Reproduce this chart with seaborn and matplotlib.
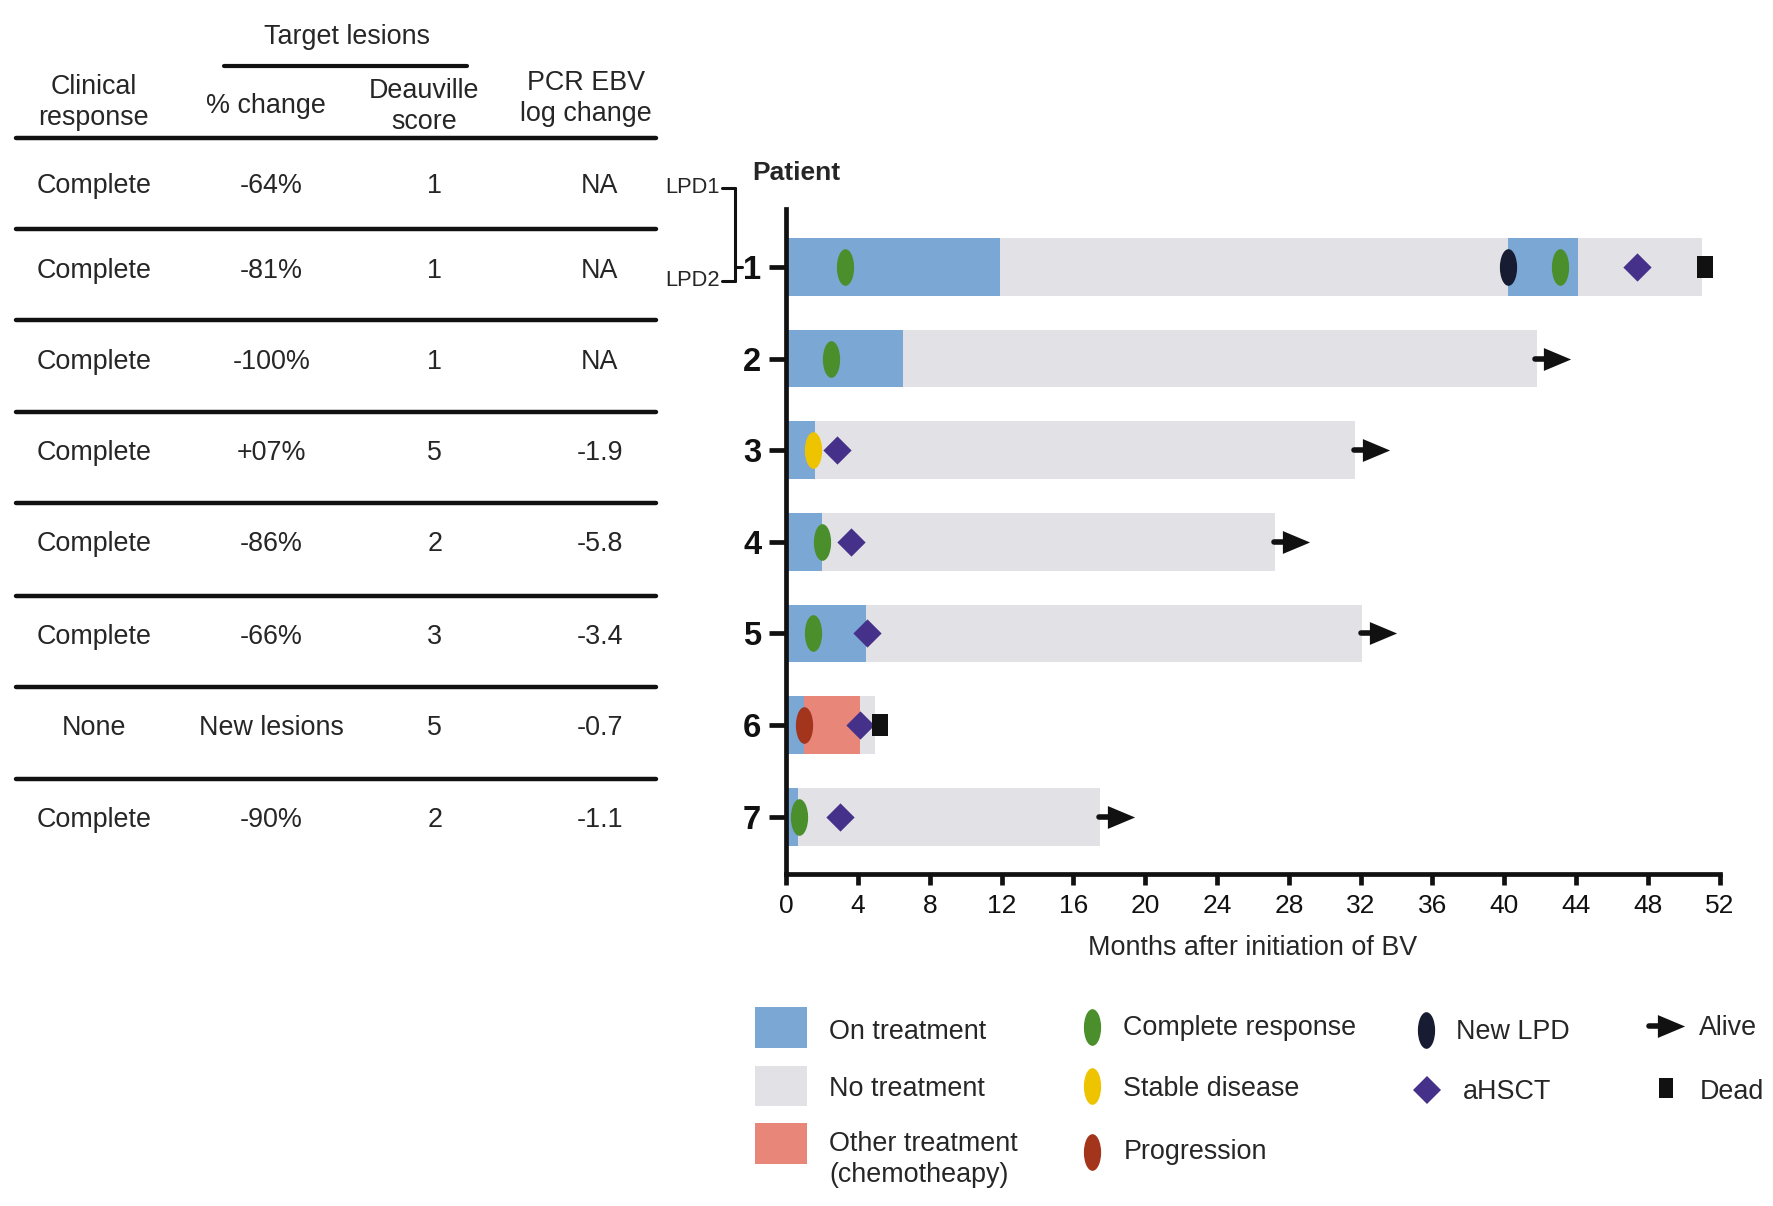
import numpy as np
import pandas as pd
import seaborn as sns
import matplotlib
matplotlib.use("Agg")
import matplotlib.pyplot as plt
from matplotlib.path import Path
from matplotlib.transforms import Affine2D
from matplotlib.patches import Rectangle
from matplotlib.lines import Line2D

# ---- table data ----
table_response = ["Complete", "Complete", "Complete", "Complete",
                  "Complete", "Complete", "None", "Complete"]
table_pct_change = ["-64%", "-81%", "-100%", "+07%", "-86%", "-66%",
                    "New lesions", "-90%"]
table_deauville = ["1", "1", "1", "5", "2", "3", "5", "2"]
table_pcr = ["NA", "NA", "NA", "-1.9", "-5.8", "-3.4", "-0.7", "-1.1"]

# ---- swimmer data (months after initiation of BV) ----
patients = [1, 2, 3, 4, 5, 6, 7]
followup_end = [51.0, 41.8, 31.7, 27.25, 32.1, 4.95, 17.5]

on_tx_patient = [1, 1, 2, 3, 4, 5, 6, 7]
on_tx_start = [0, 40.2, 0, 0, 0, 0, 0, 0]
on_tx_end = [11.9, 44.1, 6.5, 1.6, 2.0, 4.45, 1.0, 0.66]

other_tx_patient = [6]
other_tx_start = [1.0]
other_tx_end = [4.1]

cr_patient = [1, 1, 2, 4, 5, 7]
cr_month = [3.3, 43.1, 2.5, 2.0, 1.5, 0.7]
sd_patient = [3]
sd_month = [1.5]
prog_patient = [6]
prog_month = [1.0]
newlpd_patient = [1]
newlpd_month = [40.2]
ahsct_patient = [1, 3, 4, 5, 6, 7]
ahsct_month = [47.4, 2.8, 3.6, 4.5, 4.1, 3.0]
dead_patient = [1, 6]
dead_month = [51.2, 5.2]
alive_patient = [2, 3, 4, 5, 7]

x_ticks = list(range(0, 53, 4))

# ---- colours ----
c_on = "#7BA7D5"
c_no = "#E2E2E6"
c_other = "#E8867A"
c_cr = "#4A8F2B"
c_sd = "#EEC300"
c_prog = "#A3351D"
c_new = "#171C33"
c_ahsct = "#46318A"
c_black = "#111111"

sns.set_theme(style="ticks")
plt.rcParams["font.family"] = ["Liberation Sans", "DejaVu Sans"]

fig = plt.figure(figsize=(8.87, 6.03), dpi=200)
ax = fig.add_axes([0.4432, 0.2749, 0.5262, 0.5516])

bar_h = 0.63

# grey follow-up bars
ax.barh(patients, followup_end, left=0, height=bar_h, color=c_no, linewidth=0)
# on treatment
ax.barh(on_tx_patient, np.array(on_tx_end) - np.array(on_tx_start),
        left=on_tx_start, height=bar_h, color=c_on, linewidth=0)
# other treatment
ax.barh(other_tx_patient, np.array(other_tx_end) - np.array(other_tx_start),
        left=other_tx_start, height=bar_h, color=c_other, linewidth=0)

oval = Path.unit_circle().transformed(Affine2D().scale(0.47, 1.0))
rect = Path([(-0.36, -0.5), (0.36, -0.5), (0.36, 0.5), (-0.36, 0.5), (-0.36, -0.5)],
            closed=True)
head = Path([(0.5, 0), (-0.5, 0.42), (-0.5, -0.42), (0.5, 0)], closed=True)

oval_ms = 13.2
diamond_ms = 7.2
head_ms = 9.8

sns.scatterplot(x=cr_month, y=cr_patient, marker=oval, s=oval_ms ** 2, color=c_cr,
                linewidth=0, ax=ax, zorder=5)
sns.scatterplot(x=sd_month, y=sd_patient, marker=oval, s=oval_ms ** 2, color=c_sd,
                linewidth=0, ax=ax, zorder=5)
sns.scatterplot(x=prog_month, y=prog_patient, marker=oval, s=oval_ms ** 2, color=c_prog,
                linewidth=0, ax=ax, zorder=5)
sns.scatterplot(x=newlpd_month, y=newlpd_patient, marker=oval, s=oval_ms ** 2, color=c_new,
                linewidth=0, ax=ax, zorder=5)
sns.scatterplot(x=ahsct_month, y=ahsct_patient, marker="D", s=diamond_ms ** 2,
                color=c_ahsct, linewidth=0, ax=ax, zorder=5)
sns.scatterplot(x=dead_month, y=dead_patient, marker=rect, s=8.0 ** 2, color=c_black,
                linewidth=0, ax=ax, zorder=5)

# alive arrows: short shaft plus triangular head
for p in alive_patient:
    end = followup_end[p - 1]
    ax.plot([end - 0.1, end + 0.6], [p, p], color=c_black, lw=2.0,
            solid_capstyle="round", zorder=6)
    ax.plot([end + 1.15], [p], marker=head, markersize=head_ms, color=c_black,
            markeredgewidth=0, linestyle="none", zorder=6)

ax.set_xlim(0, 52)
ax.set_ylim(7.63, 0.37)
ax.set_xticks(x_ticks)
ax.set_xticklabels([str(t) for t in x_ticks], fontsize=9.5)
ax.set_yticks(patients)
ax.set_yticklabels([str(p) for p in patients], fontsize=11.8, fontweight="bold")
ax.set_xlabel("Months after initiation of BV", fontsize=9.7, labelpad=6)
sns.despine(ax=ax)
for side in ["left", "bottom"]:
    ax.spines[side].set_linewidth(1.7)
    ax.spines[side].set_color(c_black)
ax.tick_params(axis="y", length=6, width=1.7, pad=3, colors=c_black)
ax.tick_params(axis="x", length=4, width=1.7, pad=3, colors=c_black)

fig.text(0.4241, 0.8565, "Patient", fontsize=9.5, fontweight="bold",
         ha="left", va="center")

# LPD bracket
fig.text(0.4056, 0.8443, "LPD1", fontsize=7.9, ha="right", va="center")
fig.text(0.4056, 0.7674, "LPD2", fontsize=7.9, ha="right", va="center")
for xs, ys in [([0.4069, 0.4145], [0.8443, 0.8443]),
               ([0.4069, 0.4145], [0.7674, 0.7674]),
               ([0.4145, 0.4145], [0.8443, 0.7674]),
               ([0.4145, 0.4184], [0.7786, 0.7786])]:
    fig.add_artist(Line2D(xs, ys, transform=fig.transFigure, color=c_black, lw=1.1))

# ---- table ----
fs = 9.7
fig.text(0.1958, 0.969, "Target lesions", fontsize=fs, ha="center", va="center")
fig.add_artist(Line2D([0.1263, 0.2634], [0.9456, 0.9456], transform=fig.transFigure,
                      color=c_black, lw=1.5))
fig.text(0.0529, 0.9150, "Clinical\nresponse", fontsize=fs, ha="center", va="center",
         linespacing=1.25)
fig.text(0.1499, 0.9118, "% change", fontsize=fs, ha="center", va="center")
fig.text(0.2392, 0.9113, "Deauville\nscore", fontsize=fs, ha="center", va="center",
         linespacing=1.25)
fig.text(0.3304, 0.9185, "PCR EBV\nlog change", fontsize=fs, ha="center", va="center",
         linespacing=1.25)

fig.add_artist(Line2D([0.0089, 0.370], [0.8856, 0.8856], transform=fig.transFigure,
                      color=c_black, lw=1.6))
row_lines = [0.8105, 0.7345, 0.6585, 0.5826, 0.5056, 0.4306, 0.3537]
for yl in row_lines:
    fig.add_artist(Line2D([0.0089, 0.370], [yl, yl], transform=fig.transFigure,
                          color=c_black, lw=1.6))

row_y = [0.846, 0.7757, 0.6997, 0.6246, 0.5487, 0.4717, 0.3967, 0.3198]
col_x = [0.0529, 0.153, 0.245, 0.338]
for i, y in enumerate(row_y):
    for x, col in zip(col_x, [table_response, table_pct_change, table_deauville, table_pcr]):
        fig.text(x, y, col[i], fontsize=fs, ha="center", va="center")

# ---- legend ----
for (y0, h), col in zip([(0.1313, 0.0338), (0.0826, 0.0337), (0.0347, 0.0338)],
                        [c_on, c_no, c_other]):
    fig.add_artist(Rectangle((0.4254, y0), 0.0293, h, transform=fig.transFigure,
                             color=col, lw=0))
fig.text(0.4675, 0.1443, "On treatment", fontsize=fs, ha="left", va="center")
fig.text(0.4675, 0.0974, "No treatment", fontsize=fs, ha="left", va="center")
fig.text(0.4675, 0.0383, "Other treatment\n(chemotheapy)", fontsize=fs, ha="left",
         va="center", linespacing=1.25)

legend_marks = [
    (0.6154, 0.1482, oval, oval_ms, c_cr),
    (0.6154, 0.0994, oval, oval_ms, c_sd),
    (0.6154, 0.0450, oval, oval_ms, c_prog),
    (0.8036, 0.1463, oval, oval_ms, c_new),
    (0.8042, 0.0966, "D", diamond_ms, c_ahsct),
    (0.9394, 0.0976, rect, 7.0, c_black),
    (0.9418, 0.1492, head, head_ms, c_black),
]
for x, y, m, ms, col in legend_marks:
    fig.add_artist(Line2D([x], [y], transform=fig.transFigure, marker=m, markersize=ms,
                          color=col, markeredgewidth=0, linestyle="none"))
fig.add_artist(Line2D([0.9298, 0.9365], [0.1492, 0.1492], transform=fig.transFigure,
                      color=c_black, lw=2.0, solid_capstyle="round"))

fig.text(0.6333, 0.1472, "Complete response", fontsize=fs, ha="left", va="center")
fig.text(0.6333, 0.0974, "Stable disease", fontsize=fs, ha="left", va="center")
fig.text(0.6333, 0.0449, "Progression", fontsize=fs, ha="left", va="center")
fig.text(0.8208, 0.1443, "New LPD", fontsize=fs, ha="left", va="center")
fig.text(0.8246, 0.0946, "aHSCT", fontsize=fs, ha="left", va="center")
fig.text(0.9579, 0.1472, "Alive", fontsize=fs, ha="left", va="center")
fig.text(0.9579, 0.0946, "Dead", fontsize=fs, ha="left", va="center")

fig.savefig("out.png", dpi=200)
